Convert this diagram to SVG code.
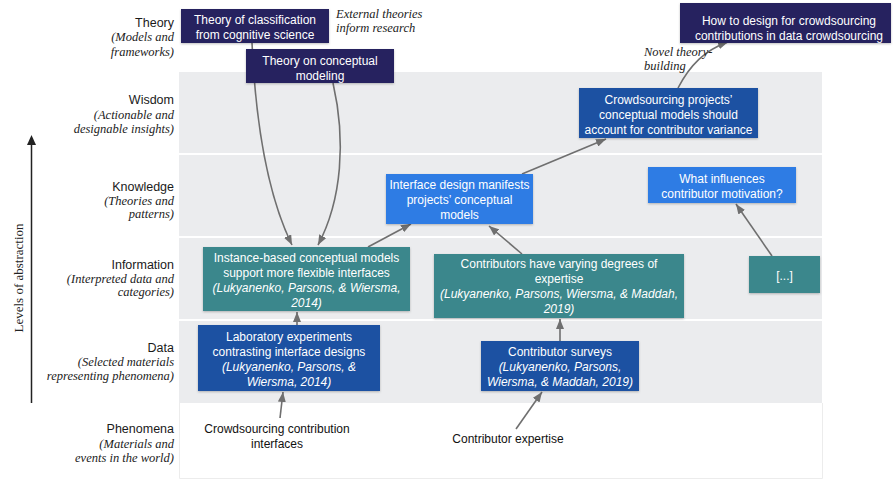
<svg xmlns="http://www.w3.org/2000/svg" width="893" height="480" viewBox="0 0 893 480">
<style>
.lvl{font-family:"Liberation Sans",Arial,sans-serif;font-size:12.5px;fill:#1a1a1a;text-anchor:end}
.sub{font-family:"Liberation Serif","Times New Roman",serif;font-style:italic;font-size:12.5px;fill:#222;text-anchor:end}
.note{font-family:"Liberation Serif","Times New Roman",serif;font-style:italic;font-size:12.5px;fill:#222}
.nt{font-family:"Liberation Sans",Arial,sans-serif;font-size:12px;fill:#fff;text-anchor:middle}
.it{font-style:italic}
.plain{font-family:"Liberation Sans",Arial,sans-serif;font-size:12px;fill:#111;text-anchor:middle}
.navy{fill:#27245f}
.mid{fill:#1e51a2}
.bright{fill:#2f7ce4}
.teal{fill:#3a878c}
.band{fill:#ebecee}
.conn{fill:none;stroke:#6f6f6f;stroke-width:1.6}
</style>
<defs>
<marker id="ah" markerUnits="userSpaceOnUse" markerWidth="10" markerHeight="8" refX="10" refY="4" orient="auto">
<path d="M0,0 L10,4 L0,8 z" fill="#6f6f6f"/>
</marker>
<filter id="sh" x="-10%" y="-10%" width="120%" height="130%">
<feDropShadow dx="0" dy="1" stdDeviation="1" flood-color="#000" flood-opacity="0.25"/>
</filter>
</defs>
<rect width="893" height="480" fill="#fff"/>
<g id="bands">
<rect class="band" x="179" y="72" width="643" height="81"/>
<rect class="band" x="179" y="155" width="643" height="81"/>
<rect class="band" x="179" y="238" width="643" height="81"/>
<rect class="band" x="179" y="321" width="643" height="82"/>
<path d="M179.5,403 L179.5,478.5 L822.5,478.5 L822.5,403" fill="none" stroke="#ececec" stroke-width="1"/>
</g>
<g id="axis">
<line x1="31.5" y1="143" x2="31.5" y2="403" stroke="#222" stroke-width="1.5"/>
<path d="M27,145 L31.5,135 L36,145 z" fill="#222"/>
<text transform="translate(23,278) rotate(-90)" font-family="Liberation Serif,Times New Roman,serif" font-size="13" fill="#222" text-anchor="middle">Levels of abstraction</text>
</g>
<g id="levels">
<text class="lvl" x="174" y="27">Theory</text>
<text class="sub" x="174" y="41">(Models and</text>
<text class="sub" x="174" y="56">frameworks)</text>
<text class="lvl" x="174" y="104">Wisdom</text>
<text class="sub" x="174" y="119">(Actionable and</text>
<text class="sub" x="174" y="133">designable insights)</text>
<text class="lvl" x="174" y="191">Knowledge</text>
<text class="sub" x="174" y="205">(Theories and</text>
<text class="sub" x="174" y="218">patterns)</text>
<text class="lvl" x="174" y="269">Information</text>
<text class="sub" x="174" y="283">(Interpreted data and</text>
<text class="sub" x="174" y="296">categories)</text>
<text class="lvl" x="174" y="352">Data</text>
<text class="sub" x="174" y="366">(Selected materials</text>
<text class="sub" x="174" y="380">representing phenomena)</text>
<text class="lvl" x="174" y="433">Phenomena</text>
<text class="sub" x="174" y="448">(Materials and</text>
<text class="sub" x="174" y="462">events in the world)</text>
</g>
<g id="connectors">
<path class="conn" d="M252,43 C256,130 270,200 292,245" marker-end="url(#ah)"/>
<path class="conn" d="M333,83 C346,140 342,200 318,245" marker-end="url(#ah)"/>
<path class="conn" d="M368,247 L411,224" marker-end="url(#ah)"/>
<path class="conn" d="M297,325 L297,312" marker-end="url(#ah)"/>
<path class="conn" d="M280,418 L283,392" marker-end="url(#ah)"/>
<path class="conn" d="M522,254 L489,226" marker-end="url(#ah)"/>
<path class="conn" d="M560,341 L560,319" marker-end="url(#ah)"/>
<path class="conn" d="M516,429 L542,392" marker-end="url(#ah)"/>
<path class="conn" d="M772,256 L736,204" marker-end="url(#ah)"/>
<path class="conn" d="M522,174 L606,139" marker-end="url(#ah)"/>
<path class="conn" d="M678,88 C690,65 705,50 728,42" marker-end="url(#ah)"/>
</g>
<g id="n-theory-classification">
<rect class="navy" x="181" y="9" width="148" height="34" filter="url(#sh)"/>
<text class="nt" x="255" y="23.5">Theory of classification</text>
<text class="nt" x="255" y="38.5">from cognitive science</text>
</g>
<g id="n-theory-modeling">
<rect class="navy" x="246" y="49" width="148" height="34" filter="url(#sh)"/>
<text class="nt" x="320" y="64.5">Theory on conceptual</text>
<text class="nt" x="320" y="79.5">modeling</text>
</g>
<g id="label-external">
<text class="note" x="336" y="18">External theories</text>
<text class="note" x="336" y="32">inform research</text>
</g>
<g id="n-how-to-design">
<rect class="navy" x="680" y="3" width="211" height="40" filter="url(#sh)"/>
<text class="nt" x="789" y="25">How to design for crowdsourcing</text>
<text class="nt" x="789" y="40">contributions in data crowdsourcing</text>
</g>
<g id="label-novel">
<text class="note" x="644" y="56">Novel theory-</text>
<text class="note" x="644" y="70">building</text>
</g>
<g id="n-crowd-models">
<rect class="mid" x="579" y="88" width="179" height="50" filter="url(#sh)"/>
<text class="nt" x="668.5" y="103.5">Crowdsourcing projects’</text>
<text class="nt" x="668.5" y="118.5">conceptual models should</text>
<text class="nt" x="668.5" y="133.5">account for contributor variance</text>
</g>
<g id="n-interface-design">
<rect class="bright" x="386" y="174" width="147" height="50" filter="url(#sh)"/>
<text class="nt" x="459.5" y="188.5">Interface design manifests</text>
<text class="nt" x="459.5" y="203.5">projects’ conceptual</text>
<text class="nt" x="459.5" y="218.5">models</text>
</g>
<g id="n-motivation">
<rect class="bright" x="648" y="167" width="148" height="36" filter="url(#sh)"/>
<text class="nt" x="722" y="182.5">What influences</text>
<text class="nt" x="722" y="197.5">contributor motivation?</text>
</g>
<g id="n-ellipsis">
<rect class="teal" x="749" y="256" width="71" height="37" filter="url(#sh)"/>
<text class="nt" x="784.5" y="280">[...]</text>
</g>
<g id="n-varying-expertise">
<rect class="teal" x="434" y="254" width="250" height="64" filter="url(#sh)"/>
<text class="nt" x="559" y="267.5">Contributors have varying degrees of</text>
<text class="nt" x="559" y="282.5">expertise</text>
<text class="nt it" x="559" y="297.5">(Lukyanenko, Parsons, Wiersma, &amp; Maddah,</text>
<text class="nt it" x="559" y="312.5">2019)</text>
</g>
<g id="n-instance-based">
<rect class="teal" x="203" y="247" width="207" height="64" filter="url(#sh)"/>
<text class="nt" x="306.5" y="261.5">Instance-based conceptual models</text>
<text class="nt" x="306.5" y="276.5">support more flexible interfaces</text>
<text class="nt it" x="306.5" y="291.5">(Lukyanenko, Parsons, &amp; Wiersma,</text>
<text class="nt it" x="306.5" y="306.5">2014)</text>
</g>
<g id="n-lab-experiments">
<rect class="mid" x="198" y="325" width="182" height="66" filter="url(#sh)"/>
<text class="nt" x="289" y="340.5">Laboratory experiments</text>
<text class="nt" x="289" y="355.5">contrasting interface designs</text>
<text class="nt it" x="289" y="370.5">(Lukyanenko, Parsons, &amp;</text>
<text class="nt it" x="289" y="385.5">Wiersma, 2014)</text>
</g>
<g id="n-surveys">
<rect class="mid" x="481" y="341" width="158" height="50" filter="url(#sh)"/>
<text class="nt" x="560" y="355.5">Contributor surveys</text>
<text class="nt it" x="560" y="371">(Lukyanenko, Parsons,</text>
<text class="nt it" x="560" y="386">Wiersma, &amp; Maddah, 2019)</text>
</g>
<g id="n-interfaces">
<text class="plain" x="277" y="433">Crowdsourcing contribution</text>
<text class="plain" x="277" y="448">interfaces</text>
</g>
<g id="n-expertise">
<text class="plain" x="508" y="443">Contributor expertise</text>
</g>
</svg>
